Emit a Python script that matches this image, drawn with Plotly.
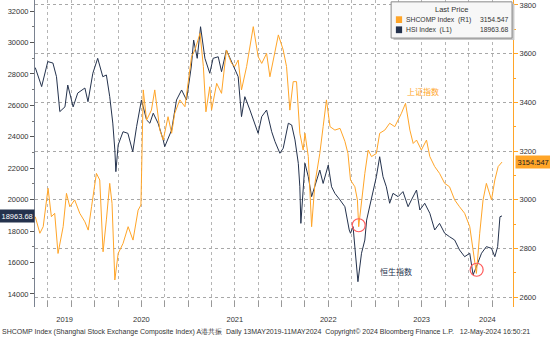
import plotly.graph_objects as go
import pandas as pd

# ---------------- data ----------------
hsi_dates = ["2019-05-13","2019-06-07","2019-07-01","2019-07-21","2019-08-04","2019-08-17","2019-09-06","2019-09-17",
"2019-10-08","2019-10-26","2019-11-23","2019-12-05","2019-12-24","2020-01-12","2020-02-01","2020-02-15","2020-02-28",
"2020-03-11","2020-03-19","2020-03-23","2020-04-01","2020-04-20","2020-05-09","2020-05-28","2020-06-12","2020-07-01",
"2020-07-21","2020-08-03","2020-08-16","2020-09-04","2020-09-24","2020-09-30","2020-10-27","2020-11-15","2020-12-05",
"2020-12-24","2021-01-06","2021-01-12","2021-01-21","2021-02-04","2021-02-17","2021-03-06","2021-03-25","2021-04-07",
"2021-04-27","2021-05-10","2021-05-29","2021-06-18","2021-07-01","2021-07-14","2021-07-27","2021-08-09","2021-08-29",
"2021-09-17","2021-09-30","2021-10-14","2021-11-02","2021-11-22","2021-12-05","2021-12-24","2022-01-06","2022-01-26",
"2022-02-08","2022-02-21","2022-03-06","2022-03-12","2022-03-16","2022-04-01","2022-04-14","2022-04-27","2022-05-10",
"2022-05-29","2022-06-11","2022-07-01","2022-07-14","2022-07-27","2022-08-16","2022-09-04","2022-09-21","2022-09-26",
"2022-10-06","2022-10-25","2022-11-08","2022-11-21","2022-11-28","2022-12-17","2023-01-05","2023-01-18","2023-01-31",
"2023-02-13","2023-02-26","2023-03-11","2023-03-31","2023-04-19","2023-05-09","2023-05-22","2023-06-11","2023-06-24",
"2023-07-13","2023-08-02","2023-08-21","2023-09-09","2023-09-29","2023-10-18","2023-11-07","2023-11-26","2023-12-16",
"2024-01-05","2024-01-18","2024-01-31","2024-02-20","2024-03-10","2024-03-30","2024-04-12","2024-04-23","2024-05-02",
"2024-05-10"]
hsi_values = [28400,27190,28780,28690,27820,25600,25900,27290,
25900,26780,27100,26230,28040,28990,27820,27930,26550,
24870,23160,21780,23480,24320,24220,23050,24640,26340,
25070,24860,25500,24860,23800,23370,24430,26340,26975,
26340,27800,28500,30150,28990,31000,28990,28040,28990,
29090,28140,29520,28775,28250,27820,25280,26550,25700,
24745,24220,25280,25700,24320,23690,22950,23270,24860,
24750,23800,22310,20820,18490,22310,21460,20190,20820,
21880,21030,22200,20820,20400,19980,19550,18070,17860,
18280,14780,16590,17430,18700,19980,21460,22730,21460,
20820,19770,20400,20190,20510,19550,19980,20610,19340,
19770,19130,18070,18490,17860,17640,17430,16800,16370,
16590,15210,15740,16590,17010,16900,16370,17010,18910,
18963.68]

sh_dates = ["2019-05-13","2019-05-31","2019-06-13","2019-06-26","2019-07-02","2019-07-15","2019-07-28","2019-08-10",
"2019-08-30","2019-09-12","2019-09-25","2019-10-14","2019-11-03","2019-11-23","2019-12-06","2019-12-19","2020-01-07",
"2020-01-20","2020-02-02","2020-02-15","2020-02-28","2020-03-08","2020-03-19","2020-04-01","2020-04-20","2020-05-10",
"2020-05-29","2020-06-18","2020-06-29","2020-07-08","2020-07-21","2020-08-09","2020-08-22","2020-09-11","2020-09-24",
"2020-10-13","2020-10-27","2020-11-08","2020-11-28","2020-12-18","2020-12-31","2021-01-13","2021-01-26","2021-02-15",
"2021-02-28","2021-03-10","2021-03-25","2021-04-01","2021-04-21","2021-05-10","2021-05-29","2021-06-18","2021-07-01",
"2021-07-14","2021-07-27","2021-08-16","2021-09-11","2021-09-30","2021-10-14","2021-11-02","2021-11-15","2021-12-05",
"2021-12-18","2022-01-06","2022-01-19","2022-02-01","2022-02-14","2022-02-27","2022-03-12","2022-03-25","2022-04-01",
"2022-04-14","2022-04-27","2022-05-10","2022-05-29","2022-06-11","2022-06-24","2022-07-08","2022-07-27","2022-08-16",
"2022-09-04","2022-09-16","2022-09-26","2022-10-13","2022-10-23","2022-10-28","2022-11-08","2022-11-21","2022-12-04",
"2022-12-17","2023-01-05","2023-01-18","2023-02-07","2023-02-26","2023-03-18","2023-03-31","2023-04-13","2023-04-29",
"2023-05-16","2023-05-29","2023-06-11","2023-06-30","2023-07-20","2023-08-02","2023-08-21","2023-09-09","2023-09-29",
"2023-10-18","2023-11-07","2023-11-26","2023-12-16","2024-01-05","2024-01-18","2024-01-31","2024-02-13","2024-02-26",
"2024-03-10","2024-03-30","2024-04-12","2024-04-25","2024-05-10"]
sh_values = [2930,2862,2889,2999,3047,2930,2944,2779,
2889,3026,2971,2999,2944,2909,2875,2971,3108,
3081,2786,2917,3067,2985,2670,2779,2820,2889,
2834,2957,2978,3451,3327,3368,3451,3286,3245,
3341,3273,3355,3410,3382,3478,3588,3615,3684,
3547,3361,3464,3368,3478,3437,3615,3560,3547,
3574,3451,3547,3711,3588,3560,3601,3505,3601,
3677,3615,3547,3368,3485,3485,3273,3204,3273,
3177,2889,3067,3190,3300,3410,3300,3286,3293,
3240,3190,3081,3053,2999,2889,2999,3108,3204,
3177,3190,3273,3286,3314,3300,3327,3355,3396,
3286,3231,3245,3204,3245,3177,3136,3108,3067,
3053,2999,2971,2944,2889,2793,2697,2862,2999,
3067,2999,3081,3136,3154.547]

circle_dates = ["2022-10-28", "2024-02-01"]
circle_values = [2895, 2712]

year_labels = ["2019", "2020", "2021", "2022", "2023", "2024"]
year_label_pos = ["2019-09-05", "2020-07-01", "2021-07-01", "2022-07-01", "2023-07-01", "2024-03-14"]

hsi_ticks = list(range(14000, 32001, 2000))
sh_ticks = list(range(2600, 3801, 200))

HSI_C = "#24324d"
SH_C = "#ffa528"
TXT = "#333333"
FONT = "Liberation Sans"

x_range = ["2019-05-12", "2024-06-22"]
quarters = [d.strftime("%Y-%m-%d") for d in pd.date_range("2019-07-01", "2024-04-01", freq="QS")]

fig = go.Figure()
fig.add_trace(go.Scatter(x=hsi_dates, y=hsi_values, mode="lines", name="HSI Index (L1)",
                         line=dict(color=HSI_C, width=1), yaxis="y", xaxis="x", hoverinfo="skip"))
fig.add_trace(go.Scatter(x=sh_dates, y=sh_values, mode="lines", name="SHCOMP Index (R1)",
                         line=dict(color=SH_C, width=1), yaxis="y2", xaxis="x", hoverinfo="skip"))
fig.add_trace(go.Scatter(x=circle_dates, y=circle_values, mode="markers", yaxis="y2", xaxis="x",
                         marker=dict(symbol="circle-open", size=13, color="#ff5a5a", line=dict(width=1.2)),
                         hoverinfo="skip"))
# carrier for the year-label axis
fig.add_trace(go.Scatter(x=[hsi_dates[-1]], y=[hsi_values[-1]], mode="markers", xaxis="x2", yaxis="y",
                         marker=dict(opacity=0), hoverinfo="skip"))

fig.update_layout(
    width=550, height=338,
    margin=dict(l=35, r=37, t=0, b=31),
    paper_bgcolor="white", plot_bgcolor="white",
    showlegend=False,
    font=dict(family=FONT, size=7.5, color=TXT),
    xaxis=dict(range=x_range, type="date", tickmode="array", tickvals=quarters, ticktext=[""] * len(quarters),
               showgrid=True, gridcolor="#b5b5b5", griddash="dot", gridwidth=1,
               ticks="inside", ticklen=6, tickcolor="#999", showline=False, zeroline=False),
    xaxis2=dict(range=x_range, type="date", overlaying="x", side="bottom", tickmode="array",
                tickvals=year_label_pos, ticktext=year_labels, ticks="", showgrid=False,
                showline=False, zeroline=False, tickfont=dict(size=7.5, color=TXT), ticklabelstandoff=6),
    yaxis=dict(range=[13170, 32700], tickmode="array", tickvals=hsi_ticks, tickformat="d",
               showgrid=False, zeroline=False, showline=True, linecolor="#7a8290", linewidth=1,
               ticks="outside", ticklen=4, tickcolor="#555", tickfont=dict(size=7.5, color=TXT),
               minor=dict(tickmode="linear", tick0=0, dtick=1000, ticks="outside", ticklen=2, tickcolor="#777")),
    yaxis2=dict(range=[2559, 3820.5], overlaying="y", side="right", tickmode="array", tickvals=sh_ticks,
                tickformat="d", showgrid=True, gridcolor="#a8a8a8", griddash="dot", gridwidth=1,
                zeroline=False, showline=True, linecolor=SH_C, linewidth=1,
                ticks="outside", ticklen=4, tickcolor=SH_C, tickfont=dict(size=7.5, color=TXT),
                minor=dict(tickmode="linear", tick0=0, dtick=100, ticks="outside", ticklen=2, tickcolor=SH_C)),
)

# last-price tags
fig.add_annotation(x=0, xref="paper", y=hsi_values[-1], yref="y", text=f"{hsi_values[-1]:.2f}",
                   xanchor="right", yanchor="middle", showarrow=False, bgcolor=HSI_C,
                   font=dict(color="white", size=7.5, family=FONT), borderpad=1.5)
fig.add_annotation(x=1, xref="paper", y=sh_values[-1], yref="y2", text=f"{sh_values[-1]:.3f}",
                   xanchor="left", yanchor="middle", showarrow=False, bgcolor=SH_C, xshift=2,
                   font=dict(color="#222", size=7.5, family=FONT), borderpad=1.5)

# text labels inside the chart
fig.add_annotation(x="2023-07-06", y=3446, xref="x", yref="y2", text="上证指数", showarrow=False,
                   font=dict(color=SH_C, size=8, family="Noto Sans CJK SC"))
fig.add_annotation(x="2023-03-22", y=15400, xref="x", yref="y", text="恒生指数", showarrow=False,
                   font=dict(color=HSI_C, size=8, family="Noto Sans CJK SC"))

# legend box
fig.add_shape(type="rect", xref="paper", yref="paper", x0=0.750, x1=1.003, y0=0.870, y1=0.988,
              line=dict(width=0), fillcolor="#c8c8c8", layer="above")
fig.add_shape(type="rect", xref="paper", yref="paper", x0=0.745, x1=0.998, y0=0.876, y1=0.994,
              line=dict(color="#8a8a8a", width=1), fillcolor="#f7f7f7", layer="above")
fig.add_annotation(x=0.8715, y=0.968, xref="paper", yref="paper", text="Last Price", showarrow=False,
                   font=dict(size=7.5, color=TXT), xanchor="center", yanchor="middle")
fig.add_shape(type="rect", xref="paper", yref="paper", x0=0.755, x1=0.768, y0=0.925, y1=0.947,
              line=dict(width=0), fillcolor=SH_C, layer="above")
fig.add_shape(type="rect", xref="paper", yref="paper", x0=0.755, x1=0.768, y0=0.892, y1=0.914,
              line=dict(width=0), fillcolor=HSI_C, layer="above")
fig.add_annotation(x=0.771, y=0.936, xref="paper", yref="paper", text="SHCOMP Index  (R1)", showarrow=False,
                   font=dict(size=6.8, color=TXT), xanchor="left", yanchor="middle")
fig.add_annotation(x=0.995, y=0.936, xref="paper", yref="paper", text=f"{sh_values[-1]:.3f}", showarrow=False,
                   font=dict(size=6.8, color=TXT), xanchor="right", yanchor="middle")
fig.add_annotation(x=0.771, y=0.903, xref="paper", yref="paper", text="HSI Index  (L1)", showarrow=False,
                   font=dict(size=6.8, color=TXT), xanchor="left", yanchor="middle")
fig.add_annotation(x=0.995, y=0.903, xref="paper", yref="paper", text=f"{hsi_values[-1]:.2f}", showarrow=False,
                   font=dict(size=6.8, color=TXT), xanchor="right", yanchor="middle")

# footer
fig.add_annotation(x=0, y=0, xref="paper", yref="paper", xanchor="left", yanchor="bottom",
                   text="SHCOMP Index (Shanghai Stock Exchange Composite Index) A港共振  Daily 13MAY2019-11MAY2024  "
                        "Copyright© 2024 Bloomberg Finance L.P.   12-May-2024 16:50:21",
                   showarrow=False, font=dict(size=7.0, color=TXT), xshift=-35, yshift=-31)

fig.write_html("out.html")
